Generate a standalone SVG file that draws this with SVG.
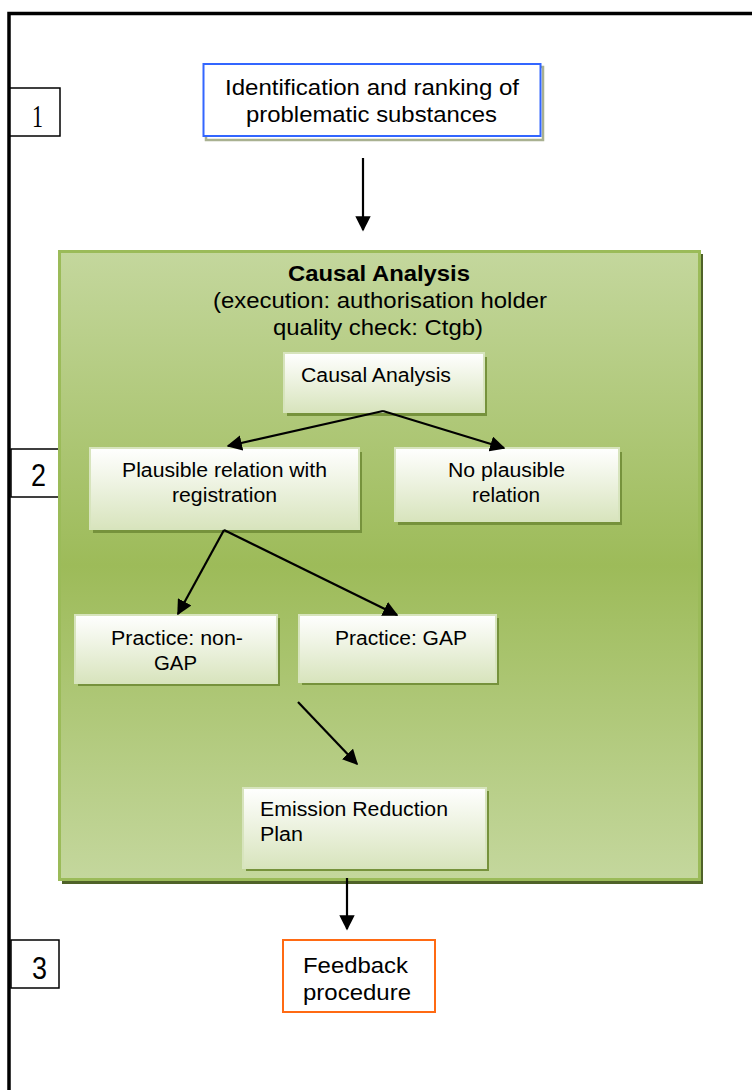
<svg xmlns="http://www.w3.org/2000/svg" width="752" height="1090" viewBox="0 0 752 1090">
  <style>
    .t { font-family: "Liberation Sans", Arial, sans-serif; fill: #000; }
    .big { font-size: 22px; }
    .lbl { font-size: 20px; }
    .num { font-family: "Liberation Sans", Arial, sans-serif; font-size: 31px; fill: #000; }
    .box { fill: url(#boxFill); stroke: #d7e4bd; stroke-width: 2; }
    .shadow { fill: #76923c; }
    .conn { stroke: #000; stroke-width: 2.2; fill: none; marker-end: url(#arrow); }
    .stage { fill: #fff; stroke: #000; stroke-width: 1.5; }
  </style>
  <defs>
    <marker id="arrow" viewBox="0 0 10 10" refX="9" refY="5" markerWidth="7" markerHeight="7" markerUnits="strokeWidth" orient="auto">
      <path d="M0,0 L10,5 L0,10 z" fill="#000"/>
    </marker>
    <linearGradient id="panelFill" x1="0" y1="0" x2="0" y2="1">
      <stop offset="0" stop-color="#c4d79d"/>
      <stop offset="0.5" stop-color="#9dbb59"/>
      <stop offset="1" stop-color="#c4d79d"/>
    </linearGradient>
    <linearGradient id="boxFill" x1="0" y1="0" x2="0" y2="1">
      <stop offset="0" stop-color="#ffffff"/>
      <stop offset="1" stop-color="#d8e4bd"/>
    </linearGradient>
  </defs>

  <rect width="752" height="1090" fill="#fff"/>

  <!-- page frame -->
  <path d="M9,1090 V13.5 H752" fill="none" stroke="#000" stroke-width="3.5"/>

  <!-- stage markers -->
  <g id="stage1"><rect class="stage" x="10" y="88" width="50" height="48"/><text x="32" y="127" font-family="Liberation Serif, serif" font-size="31" textLength="11" lengthAdjust="spacingAndGlyphs">1</text></g>
  <g id="stage2"><rect class="stage" x="11" y="449" width="48" height="48"/><text class="num" x="31" y="486" textLength="15" lengthAdjust="spacingAndGlyphs">2</text></g>
  <g id="stage3"><rect class="stage" x="11" y="940" width="48" height="48"/><text class="num" x="32" y="979" textLength="15" lengthAdjust="spacingAndGlyphs">3</text></g>

  <!-- step 1 -->
  <g id="identification">
    <rect x="206" y="67" width="337" height="73" fill="#fff" stroke="#a9b191" stroke-width="2.5"/>
    <rect x="203.5" y="64" width="337" height="72" fill="#fff" stroke="#3366ff" stroke-width="2"/>
    <text class="t big"><tspan x="225" y="95" textLength="294" lengthAdjust="spacingAndGlyphs">Identification and ranking of</tspan><tspan x="246" y="122" textLength="251" lengthAdjust="spacingAndGlyphs">problematic substances</tspan></text>
  </g>

  <!-- causal analysis panel -->
  <g id="causal-panel">
    <rect x="62" y="254" width="641" height="630" fill="#4f6228"/>
    <rect x="59.5" y="251.5" width="640" height="628" fill="url(#panelFill)" stroke="#9bbb59" stroke-width="3"/>
    <text class="t big"><tspan x="288" y="281" font-weight="bold" textLength="182" lengthAdjust="spacingAndGlyphs">Causal Analysis</tspan><tspan x="213" y="308" textLength="334" lengthAdjust="spacingAndGlyphs">(execution: authorisation holder</tspan><tspan x="273" y="335" textLength="210" lengthAdjust="spacingAndGlyphs">quality check: Ctgb)</tspan></text>
  </g>

  <g id="causal-analysis">
    <rect class="shadow" x="287" y="357" width="200" height="59"/>
    <rect class="box" x="284" y="353" width="200" height="59"/>
    <text class="t lbl" x="301" y="382" textLength="150" lengthAdjust="spacingAndGlyphs">Causal Analysis</text>
  </g>

  <g id="plausible">
    <rect class="shadow" x="93" y="452" width="269" height="81"/>
    <rect class="box" x="90" y="448" width="269" height="81"/>
    <text class="t lbl"><tspan x="122" y="477" textLength="205" lengthAdjust="spacingAndGlyphs">Plausible relation with</tspan><tspan x="172" y="502" textLength="105" lengthAdjust="spacingAndGlyphs">registration</tspan></text>
  </g>

  <g id="no-plausible">
    <rect class="shadow" x="398" y="452" width="224" height="73"/>
    <rect class="box" x="395" y="448" width="224" height="73"/>
    <text class="t lbl"><tspan x="448" y="477" textLength="117" lengthAdjust="spacingAndGlyphs">No plausible</tspan><tspan x="472" y="502" textLength="68" lengthAdjust="spacingAndGlyphs">relation</tspan></text>
  </g>

  <g id="non-gap">
    <rect class="shadow" x="78" y="618" width="202" height="68"/>
    <rect class="box" x="75" y="615" width="202" height="68"/>
    <text class="t lbl"><tspan x="111" y="645" textLength="132" lengthAdjust="spacingAndGlyphs">Practice: non-</tspan><tspan x="154" y="670" textLength="43" lengthAdjust="spacingAndGlyphs">GAP</tspan></text>
  </g>

  <g id="gap">
    <rect class="shadow" x="302" y="618" width="197" height="67"/>
    <rect class="box" x="299" y="615" width="197" height="67"/>
    <text class="t lbl" x="335" y="645" textLength="132" lengthAdjust="spacingAndGlyphs">Practice: GAP</text>
  </g>

  <g id="emission-plan">
    <rect class="shadow" x="246" y="791" width="243" height="80"/>
    <rect class="box" x="243" y="788" width="243" height="80"/>
    <text class="t lbl"><tspan x="260" y="816" textLength="188" lengthAdjust="spacingAndGlyphs">Emission Reduction</tspan><tspan x="260" y="841" textLength="43" lengthAdjust="spacingAndGlyphs">Plan</tspan></text>
  </g>

  <!-- step 3 -->
  <g id="feedback">
    <rect x="283" y="940" width="152" height="72" fill="#fff" stroke="#ff6a13" stroke-width="2"/>
    <text class="t big"><tspan x="303" y="973" textLength="105" lengthAdjust="spacingAndGlyphs">Feedback</tspan><tspan x="303" y="1000" textLength="108" lengthAdjust="spacingAndGlyphs">procedure</tspan></text>
  </g>

  <!-- connectors -->
  <g id="connectors">
    <line class="conn" x1="363" y1="158" x2="363" y2="230"/>
    <line class="conn" x1="383" y1="411" x2="228" y2="446"/>
    <line class="conn" x1="383" y1="411" x2="504" y2="448"/>
    <line class="conn" x1="224" y1="530" x2="178" y2="614"/>
    <line class="conn" x1="224" y1="530" x2="397" y2="615"/>
    <line class="conn" x1="298" y1="702" x2="357" y2="764"/>
    <line class="conn" x1="347" y1="878" x2="347" y2="929"/>
  </g>
</svg>
